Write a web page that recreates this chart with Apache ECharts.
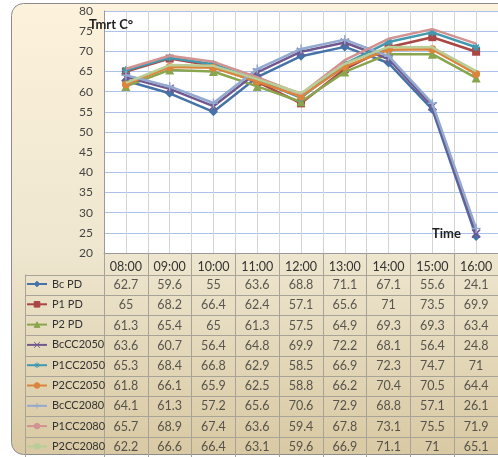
<!DOCTYPE html>
<html>
<head>
<meta charset="utf-8">
<script src="https://cdn.jsdelivr.net/npm/echarts@6/dist/echarts.min.js"></script>
<style>html,body{margin:0;padding:0;background:#fff;}#c{width:498px;height:457px;}</style>
</head>
<body>
<div id="c"></div>
<script>
var categories = ['08:00','09:00','10:00','11:00','12:00','13:00','14:00','15:00','16:00'];
var seriesNames = ['Bc PD','P1 PD','P2 PD','BcCC2050','P1CC2050','P2CC2050','BcCC2080','P1CC2080','P2CC2080'];
var bcPD     = [62.7,59.6,55,63.6,68.8,71.1,67.1,55.6,24.1];
var p1PD     = [65,68.2,66.4,62.4,57.1,65.6,71,73.5,69.9];
var p2PD     = [61.3,65.4,65,61.3,57.5,64.9,69.3,69.3,63.4];
var bcCC2050 = [63.6,60.7,56.4,64.8,69.9,72.2,68.1,56.4,24.8];
var p1CC2050 = [65.3,68.4,66.8,62.9,58.5,66.9,72.3,74.7,71];
var p2CC2050 = [61.8,66.1,65.9,62.5,58.8,66.2,70.4,70.5,64.4];
var bcCC2080 = [64.1,61.3,57.2,65.6,70.6,72.9,68.8,57.1,26.1];
var p1CC2080 = [65.7,68.9,67.4,63.6,59.4,67.8,73.1,75.5,71.9];
var p2CC2080 = [62.2,66.6,66.4,63.1,59.6,66.9,71.1,71,65.1];
var yTicks = {min: 20, max: 80, interval: 5};

var allValues = [bcPD,p1PD,p2PD,bcCC2050,p1CC2050,p2CC2050,bcCC2080,p1CC2080,p2CC2080];
var colors = ['#4572A7','#AA4643','#89A54E','#71588F','#4198AF','#DB843D','#93A9CF','#D19392','#B9CD96'];
var symbols = ['diamond','rect','triangle',
  'path://M0,0L10,10M10,0L0,10',
  'path://M5,0L5,10M0,5L10,5M1.5,1.5L8.5,8.5M8.5,1.5L1.5,8.5',
  'circle',
  'path://M5,0L5,10M0,5L10,5',
  'none','none'];
var symSizes = [9,8,9,8,8,8,9,0,0];

var FONT = 'Lato, "Liberation Sans", sans-serif';
var chart = echarts.init(document.getElementById('c'), null, {renderer:'canvas'});

var lineSeries = seriesNames.map(function(n,i){
  var isPath = symbols[i].indexOf('path://')===0;
  return {
    name: n, type: 'line', xAxisIndex: 0, yAxisIndex: 0,
    data: allValues[i],
    symbol: symbols[i], symbolSize: symSizes[i], showSymbol: symbols[i] !== 'none',
    lineStyle: {width: 2.5, color: colors[i]},
    itemStyle: {color: isPath ? 'none' : colors[i], borderColor: colors[i], borderWidth: isPath ? 1.5 : 0},
    z: 3 + i, animation: false
  };
});

var tableData = [];
allValues.forEach(function(arr,i){ arr.forEach(function(v,j){ tableData.push([j, i, v]); }); });

var option = {
  animation: false,
  textStyle: {fontFamily: FONT},
  color: colors,
  graphic: [{
    type: 'rect', z: -100, silent: true,
    shape: {x: 11.5, y: 3.5, width: 540, height: 451, r: 12},
    style: {
      fill: new echarts.graphic.LinearGradient(0,0,0,1,[{offset:0,color:'#fdf2dc'},{offset:0.55,color:'#eee6cf'},{offset:1,color:'#d9c9a3'}]),
      stroke: '#8c8c8c', lineWidth: 1
    }
  }],
  title: [
    {text: 'Tmrt C°', left: 89, top: 18, padding: 0, textStyle: {fontFamily: FONT, fontSize: 13, fontWeight: 'bold', color: '#222'}},
    {text: 'Time', left: 432, top: 227, padding: 0, textStyle: {fontFamily: FONT, fontSize: 13, fontWeight: 'bold', color: '#222'}}
  ],
  legend: {
    data: seriesNames, orient: 'vertical', left: 26, top: 278, padding: 0, height: 200,
    itemWidth: 20, itemHeight: 7, itemGap: 8.3,
    itemStyle: {borderWidth: 1},
    textStyle: {fontFamily: FONT, fontSize: 11, color: '#333', lineHeight: 12},
    selectedMode: false
  },
  grid: [
    {left: 104, right: -6, top: 11, bottom: 204, show: true, backgroundColor: '#ffffff', borderWidth: 0},
    {left: 104, right: -6, top: 275, bottom: 0, show: false},
    {left: 25, width: 79, top: 275, bottom: 0, show: false}
  ],
  xAxis: [
    {type: 'category', gridIndex: 0, data: categories, boundaryGap: true,
     axisLine: {show: true, lineStyle: {color: '#9a9a9a'}},
     axisTick: {show: true, length: 22, lineStyle: {color: '#a8a399'}},
     axisLabel: {margin: 7, fontSize: 12.5, color: '#333', fontFamily: FONT},
     splitLine: {show: false}},
    {type: 'value', gridIndex: 0, min: 0, max: 18, interval: 1, show: true,
     axisLine: {show: false}, axisTick: {show: false}, axisLabel: {show: false},
     splitLine: {show: true, lineStyle: {color: '#d4d4d4', width: 1}}},
    {type: 'category', gridIndex: 1, data: categories, boundaryGap: true,
     axisLine: {show: false}, axisTick: {show: false}, axisLabel: {show: false},
     splitLine: {show: true, lineStyle: {color: '#a8a399'}}},
    {type: 'value', gridIndex: 2, show: false}
  ],
  yAxis: [
    {type: 'value', gridIndex: 0, min: yTicks.min, max: yTicks.max, interval: yTicks.interval,
     axisLine: {show: true, lineStyle: {color: '#9a9a9a'}}, axisTick: {show: false},
     axisLabel: {fontSize: 12, color: '#444', margin: 11, fontFamily: FONT},
     splitLine: {show: true, lineStyle: {color: '#adc2e8', width: 1}}},
    {type: 'category', gridIndex: 1, data: seriesNames, inverse: true,
     axisLine: {show: true, lineStyle: {color: '#a8a399'}}, axisTick: {show: false}, axisLabel: {show: false},
     splitLine: {show: true, lineStyle: {color: '#a8a399'}}},
    {type: 'category', gridIndex: 2, data: seriesNames, inverse: true,
     axisLine: {show: true, lineStyle: {color: '#a8a399'}}, axisTick: {show: false}, axisLabel: {show: false},
     splitLine: {show: true, lineStyle: {color: '#a8a399'}}}
  ],
  series: lineSeries.concat([{
    name: 'table', type: 'scatter', xAxisIndex: 2, yAxisIndex: 1,
    data: tableData, symbolSize: 2, itemStyle: {color: 'rgba(0,0,0,0)'},
    label: {show: true, position: 'inside', formatter: function(p){ return String(p.value[2]); },
      fontSize: 12.5, color: '#333', fontFamily: FONT},
    labelLayout: {hideOverlap: false},
    silent: true
  }])
};
chart.setOption(option);
</script>
</body>
</html>
